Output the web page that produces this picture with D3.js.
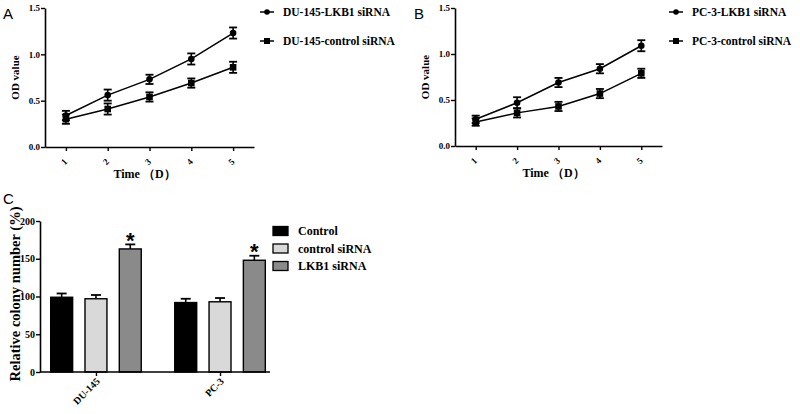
<!DOCTYPE html>
<html><head><meta charset="utf-8">
<script src="https://cdn.jsdelivr.net/npm/d3@7"></script>
<style>body{margin:0;background:#fff}svg{display:block}</style>
</head><body><svg id="c" width="800" height="414"></svg>
<script>
// ---- data ----
const days = [1, 2, 3, 4, 5];
const duLkb1 = [0.34, 0.56, 0.73, 0.95, 1.23];
const duLkb1Err = [0.05, 0.06, 0.05, 0.06, 0.06];
const duCtrl = [0.30, 0.41, 0.54, 0.69, 0.86];
const duCtrlErr = [0.05, 0.06, 0.05, 0.05, 0.06];
const pcLkb1 = [0.29, 0.47, 0.69, 0.84, 1.09];
const pcLkb1Err = [0.04, 0.06, 0.05, 0.05, 0.06];
const pcCtrl = [0.26, 0.36, 0.43, 0.57, 0.79];
const pcCtrlErr = [0.04, 0.05, 0.05, 0.05, 0.05];
const odTicks = [0.0, 0.5, 1.0, 1.5];

const cellLines = ["DU-145", "PC-3"];
const barSeries = ["Control", "control siRNA", "LKB1 siRNA"];
const barColors = ["#000000", "#d9d9d9", "#8a8a8a"];
const controlVals = [99, 92];
const ctrlSiVals = [97, 93];
const lkb1SiVals = [163, 148];
const controlErr = [5, 5];
const ctrlSiErr = [5, 5];
const lkb1SiErr = [6, 6];
const colonyTicks = [0, 50, 100, 150, 200];
const significant = [false, false, true];

const svg = d3.select("#c");
const SERIF = "'Liberation Serif','Times New Roman',serif";
const SANS = "'Liberation Sans',Arial,sans-serif";

function linePanel(opt) {
  const g = svg.append("g");
  const x = d3.scaleLinear().domain([0.5, 5.5]).range([opt.x0, opt.x1]);
  const y = d3.scaleLinear().domain([0, 1.5]).range([opt.yb, opt.yt]);
  // axes
  const ya = g.append("g").attr("transform", `translate(${opt.x0},0)`)
    .call(d3.axisLeft(y).tickValues(odTicks).tickFormat(d3.format(".1f")).tickSize(4).tickSizeOuter(0));
  const xa = g.append("g").attr("transform", `translate(0,${opt.yb})`)
    .call(d3.axisBottom(x).tickValues(days).tickFormat(d3.format("d")).tickSize(4).tickSizeOuter(0));
  [ya, xa].forEach(a => {
    a.select(".domain").attr("stroke", "#000").attr("stroke-width", 1.6);
    a.selectAll(".tick line").attr("stroke", "#000").attr("stroke-width", 1.4);
    a.selectAll("text").attr("font-family", SERIF).attr("font-weight", "bold").attr("font-size", 9).attr("fill", "#000");
  });
  ya.selectAll("text").attr("x", -5);
  xa.selectAll("text").attr("text-anchor", "middle").attr("dy", null).attr("y", 0)
    .attr("transform", "translate(0,17) rotate(-45)");
  g.append("text").attr("x", (opt.x0 + opt.x1) / 2 - 5).attr("y", opt.yb + 31)
    .attr("text-anchor", "middle").attr("font-family", SERIF).attr("font-weight", "bold").attr("font-size", 12)
    .text("Time\u00a0\uFF08D\uFF09");
  g.append("text").attr("transform", `translate(${opt.x0 - 26},${(opt.yt + opt.yb) / 2}) rotate(-90)`)
    .attr("text-anchor", "middle").attr("font-family", SERIF).attr("font-weight", "bold").attr("font-size", 11)
    .text("OD value");
  g.append("text").attr("x", opt.lx).attr("y", 19).attr("font-family", SANS).attr("font-size", 15).text(opt.letter);

  opt.series.forEach((s, si) => {
    const line = d3.line().x((d, i) => x(days[i])).y(d => y(d));
    g.append("path").attr("d", line(s.vals)).attr("fill", "none").attr("stroke", "#000").attr("stroke-width", 1.5);
    s.vals.forEach((v, i) => {
      const cx = x(days[i]), e = s.err[i];
      g.append("line").attr("x1", cx).attr("x2", cx).attr("y1", y(v - e)).attr("y2", y(v + e)).attr("stroke", "#000").attr("stroke-width", 1.6);
      [v - e, v + e].forEach(t => g.append("line").attr("x1", cx - 4).attr("x2", cx + 4).attr("y1", y(t)).attr("y2", y(t)).attr("stroke", "#000").attr("stroke-width", 1.8));
      if (s.shape === "circle") g.append("circle").attr("cx", cx).attr("cy", y(v)).attr("r", 3.3).attr("fill", "#000");
      else g.append("rect").attr("x", cx - 3.3).attr("y", y(v) - 3.3).attr("width", 6.6).attr("height", 6.6).attr("fill", "#000");
    });
    // legend
    const ly = 12 + si * 29;
    g.append("line").attr("x1", opt.legX - 7).attr("x2", opt.legX + 7).attr("y1", ly).attr("y2", ly).attr("stroke", "#000").attr("stroke-width", 1.5);
    if (s.shape === "circle") g.append("circle").attr("cx", opt.legX).attr("cy", ly).attr("r", 2.8).attr("fill", "#000");
    else g.append("rect").attr("x", opt.legX - 3).attr("y", ly - 3).attr("width", 6).attr("height", 6).attr("fill", "#000");
    g.append("text").attr("x", opt.legX + 16).attr("y", ly + 4).attr("font-family", SERIF).attr("font-weight", "bold")
      .attr("font-size", 11.5).text(s.name);
  });
}

linePanel({ x0: 45, x1: 254, yt: 8, yb: 147, lx: 3, letter: "A", legX: 267,
  series: [
    { name: "DU-145-LKB1 siRNA", vals: duLkb1, err: duLkb1Err, shape: "circle" },
    { name: "DU-145-control siRNA", vals: duCtrl, err: duCtrlErr, shape: "rect" }
  ] });
linePanel({ x0: 455, x1: 662, yt: 8, yb: 146, lx: 414, letter: "B", legX: 676,
  series: [
    { name: "PC-3-LKB1 siRNA", vals: pcLkb1, err: pcLkb1Err, shape: "circle" },
    { name: "PC-3-control siRNA", vals: pcCtrl, err: pcCtrlErr, shape: "rect" }
  ] });

// ---- panel C ----
(function () {
  const g = svg.append("g");
  const x0 = 40, x1 = 270, yt = 221, yb = 372;
  const xg = d3.scaleBand().domain(cellLines).range([x0 + 2, x1 + 4]).paddingInner(0.27).paddingOuter(0.07);
  const xi = d3.scaleBand().domain(barSeries).range([0, xg.bandwidth()]).paddingInner(0.36);
  const y = d3.scaleLinear().domain([0, 200]).range([yb, yt]);
  const vals = [controlVals, ctrlSiVals, lkb1SiVals];
  const errs = [controlErr, ctrlSiErr, lkb1SiErr];

  cellLines.forEach((c, ci) => {
    barSeries.forEach((s, si) => {
      const bx = xg(c) + xi(s), w = xi.bandwidth(), v = vals[si][ci], e = errs[si][ci];
      const cx = bx + w / 2;
      g.append("line").attr("x1", cx).attr("x2", cx).attr("y1", y(v)).attr("y2", y(v + e)).attr("stroke", "#000").attr("stroke-width", 1.6);
      g.append("line").attr("x1", cx - 5).attr("x2", cx + 5).attr("y1", y(v + e)).attr("y2", y(v + e)).attr("stroke", "#000").attr("stroke-width", 1.8);
      g.append("rect").attr("x", bx).attr("y", y(v)).attr("width", w).attr("height", y(0) - y(v))
        .attr("fill", barColors[si]).attr("stroke", "#000").attr("stroke-width", 1.4);
      if (significant[si]) g.append("text").attr("x", cx).attr("text-anchor", "middle")
        .attr("font-family", SANS).attr("font-weight", "bold").attr("font-size", 22).attr("dy", "0.7em").attr("y", y(v + e) - 12).text("*");
    });
  });

  const ya = g.append("g").attr("transform", `translate(${x0},0)`)
    .call(d3.axisLeft(y).tickValues(colonyTicks).tickSize(4).tickSizeOuter(0));
  const xa = g.append("g").attr("transform", `translate(0,${yb})`)
    .call(d3.axisBottom(d3.scalePoint().domain(cellLines).range([xg(cellLines[0]) + xg.bandwidth() / 2, xg(cellLines[1]) + xg.bandwidth() / 2]))
      .tickSize(4).tickSizeOuter(0));
  xa.select(".domain").attr("d", `M${x0},0H${x1}`);
  [ya, xa].forEach(a => {
    a.select(".domain").attr("stroke", "#000").attr("stroke-width", 1.6);
    a.selectAll(".tick line").attr("stroke", "#000").attr("stroke-width", 1.4);
    a.selectAll("text").attr("font-family", SERIF).attr("font-weight", "bold").attr("font-size", 10).attr("fill", "#000");
  });
  ya.selectAll("text").attr("x", -5);
  xa.selectAll("text").attr("text-anchor", "end").attr("dy", null).attr("y", 0)
    .attr("transform", "translate(4,10) rotate(-45)");
  g.append("text").attr("transform", `translate(${x0 - 20},294) rotate(-90)`)
    .attr("text-anchor", "middle").attr("font-family", SERIF).attr("font-weight", "bold").attr("font-size", 14.5)
    .text("Relative colony number (%)");
  g.append("text").attr("x", 3).attr("y", 204).attr("font-family", SANS).attr("font-size", 15).text("C");

  barSeries.forEach((s, si) => {
    const ly = 231 + si * 17.5;
    g.append("rect").attr("x", 273).attr("y", ly - 4.5).attr("width", 15).attr("height", 9)
      .attr("fill", barColors[si]).attr("stroke", "#000").attr("stroke-width", 1.3);
    g.append("text").attr("x", 298).attr("y", ly + 4).attr("font-family", SERIF).attr("font-weight", "bold")
      .attr("font-size", 12).text(s);
  });
})();
</script></body></html>
